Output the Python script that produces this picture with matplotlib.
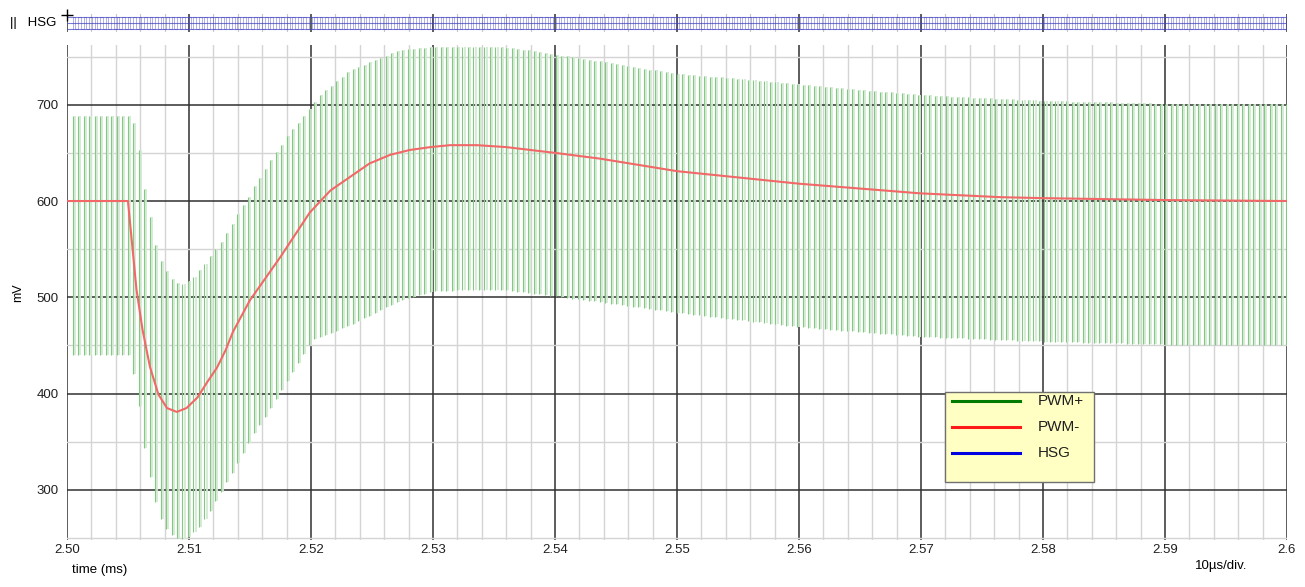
import matplotlib.pyplot as plt
import numpy as np
from matplotlib.ticker import MultipleLocator
from matplotlib.patches import Rectangle

plt.rcParams['font.family'] = ['Liberation Sans', 'DejaVu Sans']

# PWM+ envelope (mV), time in ms
up_t = [2.5000, 2.5050, 2.5054, 2.5059, 2.5063, 2.5068, 2.5072, 2.5077, 2.5081, 2.5086,
        2.5090, 2.5095, 2.5099, 2.5104, 2.5108, 2.5113, 2.5117, 2.5122, 2.5126, 2.5131,
        2.5135, 2.5140, 2.5144, 2.5149, 2.5153, 2.5158, 2.5162, 2.5167, 2.5171, 2.5176,
        2.5180, 2.5185, 2.5189, 2.5207, 2.5232, 2.5273, 2.5300, 2.5355, 2.5388, 2.5400,
        2.5437, 2.5494, 2.5600, 2.5700, 2.5800, 2.5900, 2.6000]
up_v = [688, 688, 682, 651, 614, 581, 555, 537, 528, 519,
        515, 514, 517, 521, 528, 535, 543, 551, 557, 567,
        576, 587, 596, 605, 615, 625, 633, 643, 651, 659,
        667, 675, 681, 710, 736, 757, 760, 760, 755, 752,
        745, 733, 721, 710, 704, 701, 701]

lo_t = [2.5000, 2.5050, 2.5055, 2.5060, 2.5064, 2.5069, 2.5074, 2.5078, 2.5083, 2.5090,
        2.5096, 2.5101, 2.5110, 2.5119, 2.5128, 2.5137, 2.5146, 2.5155, 2.5165, 2.5174,
        2.5183, 2.5192, 2.5201, 2.5232, 2.5273, 2.5300, 2.5330, 2.5355, 2.5400, 2.5437,
        2.5500, 2.5600, 2.5700, 2.5800, 2.5900, 2.6000]
lo_v = [440, 440, 417, 376, 336, 305, 277, 266, 256, 250,
        249, 253, 264, 282, 302, 321, 343, 363, 381, 400,
        419, 438, 456, 471, 497, 506, 508, 508, 501, 495,
        484, 469, 459, 454, 451, 450]

# PWM- (mV)
red_t = [2.5000, 2.5050, 2.5057, 2.5062, 2.5068, 2.5075, 2.5082, 2.5090, 2.5098, 2.5107,
         2.5115, 2.5123, 2.5130, 2.5136, 2.5150, 2.5175, 2.5199, 2.5216, 2.5232, 2.5248,
         2.5265, 2.5281, 2.5298, 2.5314, 2.5336, 2.5360, 2.5400, 2.5437, 2.5500, 2.5600,
         2.5699, 2.5765, 2.5800, 2.5900, 2.6000]
red_v = [600, 600, 508, 466, 428, 399, 385, 381, 385, 396,
         412, 427, 445, 464, 497, 542, 588, 611, 625, 639,
         648, 653, 656, 658, 658, 656, 650, 644, 631, 618,
         608, 604, 603, 601, 600]

period = 0.00045   # switching period, ms
t_first = 2.50047
pale_shift = 0.00017

xticks = [2.50, 2.51, 2.52, 2.53, 2.54, 2.55, 2.56, 2.57, 2.58, 2.59, 2.60]
xlabels = ['2.50', '2.51', '2.52', '2.53', '2.54', '2.55', '2.56', '2.57', '2.58', '2.59', '2.6']
yticks = [300, 400, 500, 600, 700]

legend_names = ['PWM+', 'PWM-', 'HSG']
legend_colors = ['#007a00', '#ff1a1a', '#0000e0']

edges = np.arange(t_first, 2.6, period)
lo_e = np.interp(edges, lo_t, lo_v)
hi_e = np.interp(edges, up_t, up_v)

fig = plt.figure(figsize=(13.05, 5.87), dpi=100)
ax = fig.add_axes([0.0513, 0.0801, 0.9349, 0.8432])
strip = fig.add_axes([0.0513, 0.9455, 0.9349, 0.0307])

# switching waveform: each period shows a pale and a darker edge
ax.vlines(edges + pale_shift, lo_e, hi_e, color='#d2ebd2', lw=1.3)
ax.vlines(edges, lo_e, hi_e, color='#82c882', lw=0.8)
ax.plot(red_t, red_v, color='#f26868', lw=1.5)

ax.set_xlim(2.5, 2.6)
ax.set_ylim(248, 762)
ax.set_xticks(xticks)
ax.set_xticklabels(xlabels)
ax.set_yticks(yticks)
ax.xaxis.set_minor_locator(MultipleLocator(0.002))
ax.yaxis.set_minor_locator(MultipleLocator(50))
ax.grid(which='major', color='#303030', lw=1.1)
ax.grid(which='minor', color='#d4d4d4', lw=1.0)
ax.set_axisbelow(True)
ax.tick_params(which='both', length=0, labelsize=9.5, colors='#202020')
ax.tick_params(axis='y', pad=6)
ax.tick_params(axis='x', pad=3)
for s in ax.spines.values():
    s.set_visible(False)
ax.set_ylabel('mV', fontsize=9)
ax.yaxis.set_label_coords(-0.035, 0.5)

fig.text(0.0555, 0.018, 'time (ms)', fontsize=9.5, ha='left', va='bottom')
fig.text(0.916, 0.025, '10µs/div.', fontsize=9.5, ha='left', va='bottom')

# legend box drawn by hand
ax.add_patch(Rectangle((0.7197, 0.1172), 0.1221, 0.1818, transform=ax.transAxes,
                       facecolor='#ffffc4', edgecolor='#707070', lw=1.0, zorder=5))
for i, (name, col) in enumerate(zip(legend_names, legend_colors)):
    yy = 0.2808 - i * 0.0525
    ax.plot([0.7254, 0.7811], [yy, yy], transform=ax.transAxes, color=col, lw=2.2, zorder=6)
    ax.text(0.7959, yy, name, transform=ax.transAxes, fontsize=11, va='center', ha='left',
            color='#202020', zorder=6)

# HSG strip
bx, by = [], []
for tk in edges:
    bx += [tk, tk, tk + period / 2, tk + period / 2]
    by += [0.15, 0.85, 0.85, 0.15]
strip.plot(bx, by, color='#3030d0', lw=0.6, alpha=0.45)
for yv in [0.15, 0.5, 0.85]:
    strip.axhline(yv, color='#4040c0', lw=0.8, alpha=0.7)
strip.set_xlim(2.5, 2.6)
strip.set_ylim(0, 1)
strip.set_xticks(xticks)
strip.set_yticks([])
strip.xaxis.set_minor_locator(MultipleLocator(0.002))
strip.grid(which='major', axis='x', color='#303030', lw=1.1)
strip.grid(which='minor', axis='x', color='#c8c8c8', lw=0.8)
strip.tick_params(which='both', length=0, labelbottom=False)
for s in strip.spines.values():
    s.set_visible(False)
strip.plot([2.5], [0.95], marker='+', color='black', ms=8, mew=1.0, clip_on=False)
fig.text(0.008, 0.96, '||   HSG', fontsize=9.5, va='center', ha='left')

fig.savefig('out.png', dpi=100)
